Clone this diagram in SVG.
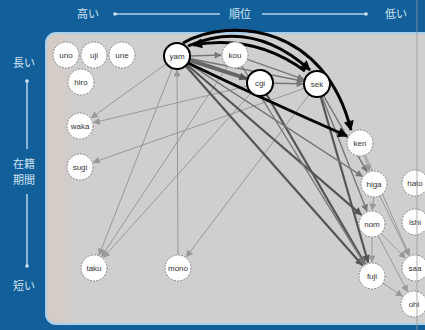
<svg xmlns="http://www.w3.org/2000/svg" width="425" height="330" viewBox="0 0 425 330">
<defs>
<linearGradient id="pg" x1="0" y1="0" x2="1" y2="0">
<stop offset="0" stop-color="#d6cbc2"/>
<stop offset="0.05" stop-color="#d2cdca"/>
<stop offset="0.08" stop-color="#cfcfcf"/>
<stop offset="1" stop-color="#cfcfcf"/>
</linearGradient>
<marker id="ab" viewBox="0 0 10 10" refX="9" refY="5" markerWidth="13" markerHeight="10" markerUnits="userSpaceOnUse" orient="auto"><path d="M0,0 L10,5 L0,10 z" fill="#000"/></marker>
<marker id="ad" viewBox="0 0 10 10" refX="9" refY="5" markerWidth="11" markerHeight="8" markerUnits="userSpaceOnUse" orient="auto"><path d="M0,0 L10,5 L0,10 z" fill="#555"/></marker>
<marker id="am" viewBox="0 0 10 10" refX="9" refY="5" markerWidth="10" markerHeight="7" markerUnits="userSpaceOnUse" orient="auto"><path d="M0,0 L10,5 L0,10 z" fill="#777"/></marker>
<marker id="al" viewBox="0 0 10 10" refX="9" refY="5" markerWidth="9" markerHeight="7" markerUnits="userSpaceOnUse" orient="auto"><path d="M0,0 L10,5 L0,10 z" fill="#999"/></marker>
</defs>
<style>
.ax{font-family:"Noto Sans CJK JP","Noto Sans",sans-serif;font-size:11px;fill:#cfe6f6;text-anchor:middle}
.axl{stroke:#a9d2ee;stroke-width:1.5;fill:none}
.dot{fill:#cfe6f6}
.n circle{fill:#fff;stroke:#8a8a8a;stroke-width:1;stroke-dasharray:2 1.2}
.n.b circle{stroke:#000;stroke-width:2;stroke-dasharray:none}
.n text{font-family:"Liberation Sans",Arial,sans-serif;font-size:8px;fill:#333;text-anchor:middle}
.k{fill:none;stroke:#000;stroke-width:3;marker-end:url(#ab)}
.d{fill:none;stroke:#555;stroke-width:2.2;marker-end:url(#ad)}
.m{fill:none;stroke:#777;stroke-width:1.4;marker-end:url(#am)}
.l{fill:none;stroke:#999;stroke-width:1;marker-end:url(#al)}
</style>
<rect x="0" y="0" width="425" height="330" fill="#135f9a"/>
<rect x="46" y="33" width="400" height="291" rx="10" fill="url(#pg)" stroke="#a7d0ec" stroke-width="2"/>
<g id="axis-top">
<text class="ax" x="88" y="18">高い</text>
<line class="axl" x1="115" y1="14" x2="220" y2="14"/>
<circle class="dot" cx="115" cy="14" r="1.8"/>
<text class="ax" x="240" y="18">順位</text>
<line class="axl" x1="262" y1="14" x2="366" y2="14"/>
<circle class="dot" cx="366" cy="14" r="1.8"/>
<text class="ax" x="396" y="18">低い</text>
</g>
<g id="axis-left">
<text class="ax" x="24" y="67">長い</text>
<line class="axl" x1="27" y1="81" x2="27" y2="149"/>
<circle class="dot" cx="27" cy="81" r="1.8"/>
<text class="ax" x="24" y="168">在籍</text>
<text class="ax" x="24" y="184">期間</text>
<line class="axl" x1="27" y1="194" x2="27" y2="266"/>
<circle class="dot" cx="27" cy="266" r="1.8"/>
<text class="ax" x="24" y="290">短い</text>
</g>
<g id="connectors">
<line class="l" x1="172.3" y1="68.1" x2="99.1" y2="255"/>
<line class="l" x1="227.8" y1="65.8" x2="101.7" y2="256.3"/>
<line class="l" x1="251.3" y1="92.7" x2="103.4" y2="257.6"/>
<line class="l" x1="166.5" y1="63.6" x2="91.4" y2="117.8"/>
<line class="l" x1="247.4" y1="86" x2="93.6" y2="122.7"/>
<line class="l" x1="304.7" y1="88.3" x2="93.2" y2="162.4"/>
<line class="l" x1="178" y1="255" x2="177" y2="70"/>
<line class="l" x1="309.2" y1="94.4" x2="186.4" y2="256.8"/>
<line class="m" x1="190" y1="56" x2="221" y2="55"/>
<line class="m" x1="247.3" y1="59.3" x2="303.8" y2="79.3"/>
<line class="m" x1="273" y1="83.2" x2="303" y2="83.8"/>
<line class="m" x1="189.7" y1="58.5" x2="303.3" y2="81.3"/>
<line fill="none" stroke="#666" stroke-width="4" marker-end="url(#ad)" x1="189.4" y1="60" x2="246.7" y2="78.7"/>
<line class="d" x1="185.6" y1="65.7" x2="362.7" y2="265.5"/>
<line class="d" x1="186.8" y1="64.5" x2="361.4" y2="214.9"/>
<line class="d" x1="266.5" y1="94.2" x2="365" y2="263.9"/>
<line class="d" x1="320.6" y1="96.5" x2="368.1" y2="262.5"/>
<line class="m" x1="187.9" y1="63.1" x2="362.3" y2="176.4"/>
<line class="m" x1="241.9" y1="66" x2="364.6" y2="264.1"/>
<line class="m" x1="321.8" y1="96.1" x2="366.9" y2="211"/>
<line class="m" x1="323.4" y1="95.3" x2="367.1" y2="171.8"/>
<line class="l" x1="364.2" y1="155.3" x2="369.5" y2="170.8"/>
<line class="l" x1="373.9" y1="197" x2="372.1" y2="210"/>
<line class="l" x1="372" y1="237" x2="372" y2="262"/>
<line class="l" x1="365.2" y1="154.9" x2="409.4" y2="255.2"/>
<line class="l" x1="379.7" y1="195.7" x2="408.9" y2="255.4"/>
<line class="l" x1="381.1" y1="233.3" x2="405.2" y2="258"/>
<line class="l" x1="382.8" y1="283.2" x2="402.4" y2="296.2"/>
<line class="l" x1="378" y1="235.5" x2="407.5" y2="291.6"/>
<path class="k" d="M188,63 Q265,100 347,136"/>
<path class="k" d="M183,43 C232,16 325,26 351,130"/>
<path class="k" d="M188,46 Q252,18 310,70"/>
<path class="k" d="M305,71 Q255,34 193,45"/>
</g>
<g id="n-uno" class="n"><circle cx="66" cy="55" r="13"/><text x="66" y="58">uno</text></g>
<g id="n-uji" class="n"><circle cx="94" cy="55" r="13"/><text x="94" y="58">uji</text></g>
<g id="n-une" class="n"><circle cx="122" cy="55" r="13"/><text x="122" y="58">une</text></g>
<g id="n-hiro" class="n"><circle cx="81" cy="82" r="13"/><text x="81" y="85">hiro</text></g>
<g id="n-waka" class="n"><circle cx="80" cy="126" r="13"/><text x="80" y="129">waka</text></g>
<g id="n-sugi" class="n"><circle cx="80" cy="167" r="13"/><text x="80" y="170">sugi</text></g>
<g id="n-yam" class="n b"><circle cx="177" cy="56" r="13"/><text x="177" y="59">yam</text></g>
<g id="n-kou" class="n"><circle cx="235" cy="55" r="13"/><text x="235" y="58">kou</text></g>
<g id="n-cgi" class="n b"><circle cx="260" cy="83" r="13"/><text x="260" y="86">cgi</text></g>
<g id="n-sek" class="n b"><circle cx="317" cy="84" r="13"/><text x="317" y="87">sek</text></g>
<g id="n-ken" class="n"><circle cx="360" cy="143" r="13"/><text x="360" y="146">ken</text></g>
<g id="n-higa" class="n"><circle cx="374" cy="184" r="13"/><text x="374" y="187">higa</text></g>
<g id="n-hato" class="n"><circle cx="415" cy="183" r="13"/><text x="415" y="186">hato</text></g>
<g id="n-nom" class="n"><circle cx="372" cy="224" r="13"/><text x="372" y="227">nom</text></g>
<g id="n-ishi" class="n"><circle cx="415" cy="222" r="13"/><text x="415" y="225">ishi</text></g>
<g id="n-fuji" class="n"><circle cx="372" cy="276" r="13"/><text x="372" y="279">fuji</text></g>
<g id="n-saa" class="n"><circle cx="415" cy="268" r="13"/><text x="415" y="271">saa</text></g>
<g id="n-ohi" class="n"><circle cx="414" cy="304" r="13"/><text x="414" y="307">ohi</text></g>
<g id="n-taku" class="n"><circle cx="94" cy="268" r="13"/><text x="94" y="271">taku</text></g>
<g id="n-mono" class="n"><circle cx="178" cy="268" r="13"/><text x="178" y="271">mono</text></g>
<line x1="417" y1="0" x2="417" y2="330" stroke="#9a9a9a" stroke-width="0.8"/>
</svg>
